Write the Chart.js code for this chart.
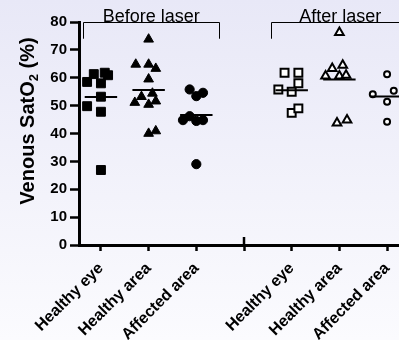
<!DOCTYPE html>
<html lang="en">
<head>
<meta charset="UTF-8">
<title>Venous SatO2 before and after laser</title>
<script src="https://cdn.jsdelivr.net/npm/chart.js"></script>
<style>
    html, body {
        margin: 0;
        padding: 0;
        background: #fff;
    }
    .chart-container {
        position: relative;
        width: 399px;
        height: 340px;
    }
</style>
</head>
<body>
<div class="chart-container">
    <canvas id="satChart"></canvas>
</div>
<script>
const categories = ['Healthy eye', 'Healthy area', 'Affected area', '', 'Healthy eye', 'Healthy area', 'Affected area'];
const yTicks = [0, 10, 20, 30, 40, 50, 60, 70, 80];
const groupTitles = ['Before laser', 'After laser'];
// bracket extents, in category units
const groupSpans = [[0.63, 3.48], [4.56, 7.48]];

// values (%) and horizontal scatter of each dot (category units)
const beforeEye = [58.5, 61.3, 61.8, 60.9, 58.0, 53.2, 49.8, 47.8, 26.9];
const beforeEyeX = [-0.29, -0.15, 0.08, 0.15, 0, 0, -0.29, 0, 0];
const beforeArea = [73.8, 64.8, 64.8, 63.3, 59.5, 54.4, 53.2, 51.1, 51.6, 50.4, 40.0, 40.9];
const beforeAreaX = [0, -0.27, 0, 0.15, 0, 0.08, -0.15, -0.29, 0.15, 0, 0, 0.15];
const beforeAffected = [55.8, 53.4, 54.6, 44.8, 46.2, 44.5, 44.8, 29.0];
const beforeAffectedX = [-0.14, 0, 0.14, -0.28, -0.14, 0, 0.14, 0];
const afterEye = [61.8, 61.8, 58.0, 55.8, 55.0, 47.4, 49.0];
const afterEyeX = [-0.15, 0.14, 0.14, -0.28, 0, 0, 0.14];
const afterArea = [76.2, 63.3, 64.5, 60.6, 60.6, 60.9, 43.8, 44.8];
const afterAreaX = [0, -0.15, 0.07, -0.29, 0, 0.14, -0.05, 0.16];
const afterAffected = [61.3, 54.1, 55.3, 51.4, 44.2];
const afterAffectedX = [0, -0.3, 0.14, 0, 0];

const FONT = "'Liberation Sans', Arial, sans-serif";

function mean(arr) {
    return arr.reduce((s, v) => s + v, 0) / arr.length;
}

function dots(pos, values, offsets) {
    return values.map((v, i) => ({ x: pos + offsets[i], y: v }));
}

const groups = [
    { pos: 1, values: beforeEye, offsets: beforeEyeX, style: 'rect', open: false, r: 6.3 },
    { pos: 2, values: beforeArea, offsets: beforeAreaX, style: 'triangle', open: false, r: 5.6 },
    { pos: 3, values: beforeAffected, offsets: beforeAffectedX, style: 'circle', open: false, r: 4.6 },
    { pos: 5, values: afterEye, offsets: afterEyeX, style: 'rect', open: true, r: 5.6 },
    { pos: 6, values: afterArea, offsets: afterAreaX, style: 'triangle', open: true, r: 5 },
    { pos: 7, values: afterAffected, offsets: afterAffectedX, style: 'circle', open: true, r: 3 }
];

const datasets = [];
groups.forEach(g => {
    const m = mean(g.values);
    datasets.push({
        type: 'line',
        data: [{ x: g.pos - 0.34, y: m }, { x: g.pos + 0.34, y: m }],
        borderColor: '#000',
        borderWidth: 2,
        pointRadius: 0,
        order: 0
    });
    datasets.push({
        data: dots(g.pos, g.values, g.offsets),
        pointStyle: g.style,
        pointRadius: g.r,
        backgroundColor: g.open ? '#fff' : '#000',
        borderColor: '#000',
        borderWidth: g.open ? 2 : 1,
        order: 1
    });
});

const backdrop = {
    id: 'backdrop',
    beforeDraw(chart) {
        const ctx = chart.ctx;
        const grad = ctx.createLinearGradient(0, 0, 0, chart.height);
        grad.addColorStop(0, '#e8e8f7');
        grad.addColorStop(1, '#fbfbfe');
        ctx.save();
        ctx.fillStyle = grad;
        ctx.fillRect(0, 0, chart.width, chart.height);
        ctx.restore();
    }
};

const extras = {
    id: 'extras',
    afterDraw(chart) {
        const ctx = chart.ctx;
        const xs = chart.scales.x;
        const ys = chart.scales.y;
        ctx.save();

        // group brackets
        ctx.strokeStyle = '#000';
        ctx.fillStyle = '#000';
        ctx.lineWidth = 1;
        const yTop = Math.round(ys.getPixelForValue(80)) + 0.5;
        const yBot = ys.getPixelForValue(74);
        ctx.font = '18px ' + FONT;
        ctx.textAlign = 'center';
        ctx.textBaseline = 'alphabetic';
        groupSpans.forEach((span, i) => {
            const x1 = Math.round(xs.getPixelForValue(span[0])) + 0.5;
            const x2 = Math.round(xs.getPixelForValue(span[1])) + 0.5;
            ctx.beginPath();
            ctx.moveTo(x1, yBot);
            ctx.lineTo(x1, yTop);
            ctx.lineTo(x2, yTop);
            ctx.lineTo(x2, yBot);
            ctx.stroke();
            const cx = (xs.getPixelForValue(span[0]) + xs.getPixelForValue(span[1])) / 2;
            ctx.fillText(groupTitles[i], cx, yTop - 1);
        });

        // axis break mark
        const bx = xs.getPixelForValue(4);
        ctx.lineWidth = 2.5;
        ctx.beginPath();
        ctx.moveTo(bx, ys.bottom - 8);
        ctx.lineTo(bx, ys.bottom + 2);
        ctx.stroke();

        // y axis title with subscript
        ctx.translate(34, 121);
        ctx.rotate(-Math.PI / 2);
        ctx.textAlign = 'left';
        const big = 'bold 20px ' + FONT;
        const small = 'bold 13px ' + FONT;
        ctx.font = big;
        const wa = ctx.measureText('Venous SatO').width;
        const wc = ctx.measureText(' (%)').width;
        ctx.font = small;
        const wb = ctx.measureText('2').width;
        let x = -(wa + wb + wc) / 2;
        ctx.font = big;
        ctx.fillText('Venous SatO', x, 0);
        x += wa;
        ctx.font = small;
        ctx.fillText('2', x, 4);
        x += wb;
        ctx.font = big;
        ctx.fillText(' (%)', x, 0);
        ctx.restore();
    }
};

new Chart(document.getElementById('satChart'), {
    type: 'scatter',
    data: { datasets: datasets },
    options: {
        responsive: true,
        maintainAspectRatio: false,
        animation: false,
        devicePixelRatio: 1,
        layout: {
            autoPadding: false,
            padding: { top: 22, left: 0, right: 0, bottom: 0 }
        },
        plugins: {
            legend: { display: false },
            tooltip: { enabled: false }
        },
        scales: {
            x: {
                type: 'linear',
                min: 0.54,
                max: 7.25,
                afterBuildTicks: scale => {
                    scale.ticks = categories.map((c, i) => ({ value: i + 1 }));
                },
                afterFit: scale => {
                    scale.height = 95;
                    scale.paddingLeft = 0;
                    scale.paddingRight = 0;
                },
                ticks: {
                    autoSkip: false,
                    maxRotation: 45,
                    minRotation: 45,
                    padding: 8,
                    color: '#000',
                    font: { family: FONT, size: 16, weight: 'bold' },
                    callback: value => categories[value - 1]
                },
                grid: {
                    drawOnChartArea: false,
                    tickLength: 6,
                    tickWidth: 2.5,
                    tickColor: '#000'
                },
                border: { color: '#000', width: 3 }
            },
            y: {
                min: 0,
                max: 80,
                afterBuildTicks: scale => {
                    scale.ticks = yTicks.map(v => ({ value: v }));
                },
                afterFit: scale => {
                    scale.width = 79;
                    scale.paddingTop = 0;
                    scale.paddingBottom = 0;
                },
                ticks: {
                    padding: 3,
                    color: '#000',
                    font: { family: FONT, size: 15, weight: 'bold' }
                },
                grid: {
                    drawOnChartArea: false,
                    tickLength: 9,
                    tickWidth: 2.5,
                    tickColor: '#000'
                },
                border: { color: '#000', width: 3 }
            }
        }
    },
    plugins: [backdrop, extras]
});
</script>
</body>
</html>
